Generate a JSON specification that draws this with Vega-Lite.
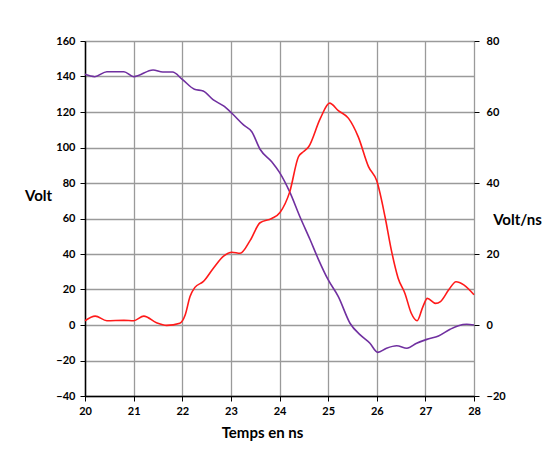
{
  "$schema": "https://vega.github.io/schema/vega-lite/v6.json",
  "width": 389,
  "height": 355,
  "autosize": "none",
  "padding": {"left": 85, "top": 41, "right": 78, "bottom": 54},
  "background": "white",
  "config": {
    "view": {"stroke": null},
    "font": "Lato",
    "axis": {
      "labelFont": "Lato",
      "labelFontWeight": "bold",
      "labelFontSize": 11,
      "labelColor": "#000000",
      "titleFont": "Lato",
      "titleFontWeight": "bold",
      "titleFontSize": 15,
      "titleColor": "#000000",
      "gridColor": "#9a9a9a",
      "gridWidth": 1.3,
      "gridOpacity": 1,
      "tickColor": "#000000",
      "tickSize": 5,
      "domainColor": "#000000",
      "domainWidth": 1.5
    }
  },
  "datasets": {
    "volt": [
      {"t": 20.0, "v": 141.2}, {"t": 20.2, "v": 139.9}, {"t": 20.45, "v": 142.7}, {"t": 20.8, "v": 142.7},
      {"t": 21.0, "v": 139.9}, {"t": 21.4, "v": 143.7}, {"t": 21.6, "v": 142.5}, {"t": 21.8, "v": 142.5},
      {"t": 22.0, "v": 138.4}, {"t": 22.25, "v": 132.8}, {"t": 22.43, "v": 131.8}, {"t": 22.64, "v": 126.8},
      {"t": 22.85, "v": 123.4}, {"t": 23.02, "v": 119.3}, {"t": 23.26, "v": 112.7}, {"t": 23.43, "v": 108.9},
      {"t": 23.6, "v": 99.0}, {"t": 23.84, "v": 92.0}, {"t": 24.0, "v": 86.0}, {"t": 24.21, "v": 75.0},
      {"t": 24.42, "v": 61.0}, {"t": 24.63, "v": 48.0}, {"t": 24.8, "v": 37.0}, {"t": 25.0, "v": 25.5},
      {"t": 25.21, "v": 16.0}, {"t": 25.45, "v": 1.0}, {"t": 25.66, "v": -5.6}, {"t": 25.86, "v": -10.3},
      {"t": 26.02, "v": -15.4}, {"t": 26.2, "v": -13.1}, {"t": 26.41, "v": -11.7}, {"t": 26.62, "v": -13.1},
      {"t": 26.82, "v": -10.3}, {"t": 27.03, "v": -8.1}, {"t": 27.27, "v": -6.2}, {"t": 27.51, "v": -2.4},
      {"t": 27.68, "v": -0.4}, {"t": 27.85, "v": 0.4}, {"t": 28.0, "v": 0.0}
    ],
    "dvdt": [
      {"t": 20.0, "v": 1.2}, {"t": 20.21, "v": 2.5}, {"t": 20.45, "v": 1.2}, {"t": 20.8, "v": 1.3},
      {"t": 21.0, "v": 1.2}, {"t": 21.21, "v": 2.5}, {"t": 21.47, "v": 0.65}, {"t": 21.68, "v": -0.1},
      {"t": 21.95, "v": 0.5}, {"t": 22.06, "v": 2.8}, {"t": 22.16, "v": 8.0}, {"t": 22.26, "v": 10.6},
      {"t": 22.43, "v": 12.2}, {"t": 22.64, "v": 16.0}, {"t": 22.85, "v": 19.4}, {"t": 23.02, "v": 20.5},
      {"t": 23.19, "v": 20.2}, {"t": 23.4, "v": 23.9}, {"t": 23.6, "v": 28.8}, {"t": 23.84, "v": 30.0},
      {"t": 24.01, "v": 31.7}, {"t": 24.21, "v": 37.5}, {"t": 24.39, "v": 47.4}, {"t": 24.49, "v": 48.8},
      {"t": 24.6, "v": 50.2}, {"t": 24.84, "v": 58.2}, {"t": 25.03, "v": 62.5}, {"t": 25.21, "v": 60.4},
      {"t": 25.42, "v": 58.2}, {"t": 25.62, "v": 53.0}, {"t": 25.83, "v": 44.6}, {"t": 26.0, "v": 40.6},
      {"t": 26.17, "v": 30.5}, {"t": 26.3, "v": 21.1}, {"t": 26.44, "v": 13.2}, {"t": 26.58, "v": 8.9},
      {"t": 26.71, "v": 3.3}, {"t": 26.83, "v": 1.2}, {"t": 26.95, "v": 5.2}, {"t": 27.04, "v": 7.5},
      {"t": 27.21, "v": 6.1}, {"t": 27.31, "v": 6.6}, {"t": 27.48, "v": 9.9}, {"t": 27.63, "v": 12.2},
      {"t": 27.79, "v": 11.3}, {"t": 28.0, "v": 8.5}
    ]
  },
  "layer": [
    {
      "data": {"name": "volt"},
      "mark": {"type": "line", "color": "#7030A0", "strokeWidth": 1.6, "interpolate": "monotone"},
      "encoding": {
        "x": {
          "field": "t", "type": "quantitative",
          "scale": {"domain": [20, 28], "nice": false, "zero": false},
          "axis": {
            "values": [20, 21, 22, 23, 24, 25, 26, 27, 28],
            "grid": true,
            "title": "Temps en ns",
            "titleX": 177,
            "titleY": 36,
            "titleAnchor": null,
            "titleAlign": "center",
            "titleBaseline": "middle",
            "labelPadding": 4,
            "labelFlush": false
          }
        },
        "y": {
          "field": "v", "type": "quantitative",
          "scale": {"domain": [-40, 160], "nice": false, "zero": false},
          "axis": {
            "values": [-40, -20, 0, 20, 40, 60, 80, 100, 120, 140, 160],
            "grid": true,
            "title": "Volt",
            "titleAngle": 0,
            "titleX": -47,
            "titleY": 154,
            "titleAlign": "center",
            "titleBaseline": "middle",
            "labelPadding": 5
          }
        }
      }
    },
    {
      "data": {"name": "dvdt"},
      "mark": {"type": "line", "color": "#FF1A1A", "strokeWidth": 1.6, "interpolate": "monotone"},
      "encoding": {
        "x": {"field": "t", "type": "quantitative"},
        "y": {
          "field": "v", "type": "quantitative",
          "scale": {"domain": [-20, 80], "nice": false, "zero": false},
          "axis": {
            "orient": "right",
            "values": [-20, 0, 20, 40, 60, 80],
            "grid": false,
            "domain": false,
            "title": "Volt/ns",
            "titleAngle": 0,
            "titleX": 43,
            "titleY": 178,
            "titleAlign": "center",
            "titleBaseline": "middle",
            "labelPadding": 7
          }
        }
      }
    }
  ],
  "resolve": {"scale": {"y": "independent"}, "axis": {"y": "independent"}}
}
